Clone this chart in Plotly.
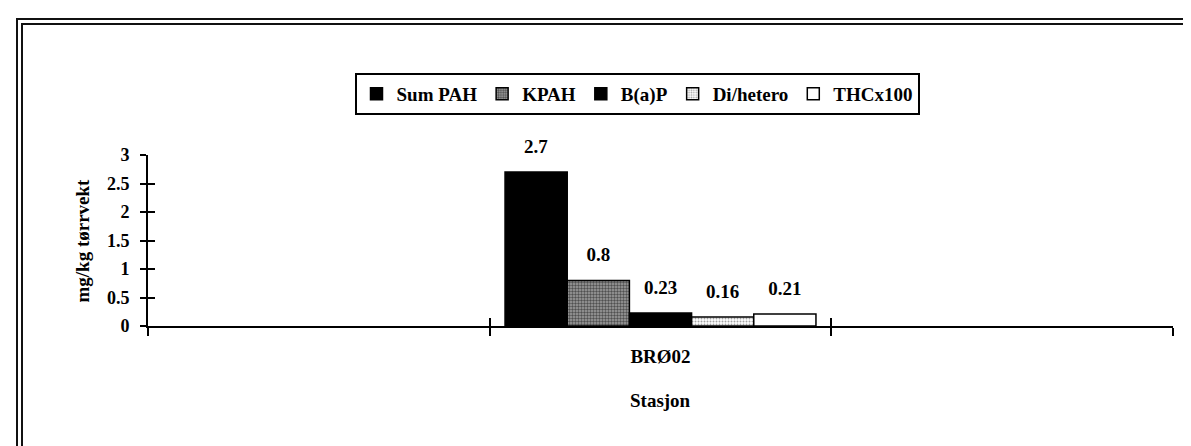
import plotly.graph_objects as go

# ---------------- data ----------------
stations = ["BRØ02"]
axis_slots = [" ", "BRØ02", "  "]          # category slots along the x axis
series_names = ["Sum PAH", "KPAH", "B(a)P", "Di/hetero", "THCx100"]
sum_pah = [2.7]
kpah = [0.8]
bap = [0.23]
di_hetero = [0.16]
thc_x100 = [0.21]
label_sum_pah = ["2.7"]
label_kpah = ["0.8"]
label_bap = ["0.23"]
label_di_hetero = ["0.16"]
label_thc = ["0.21"]
y_ticks = [0, 0.5, 1, 1.5, 2, 2.5, 3]

# ---------------- layout geometry ----------------
W, H = 1191, 446
ML, MR, MT, MB = 140, 26, 147, 128
PW, PH = W - ML - MR, H - MT - MB


def px_x(px):
    return (px - ML) / PW


def px_y(py):
    return (H - MB - py) / PH


FONT = "Liberation Serif"
BLACK = "#000000"


def bold(size):
    return dict(family=FONT, size=size, color=BLACK, weight="bold")


styles = [
    dict(color=BLACK, pattern=None),
    dict(color="#8c8c8c", pattern=dict(shape=".", fgcolor=BLACK, bgcolor="#a0a0a0",
                                       size=3, solidity=0.5, fillmode="overlay")),
    dict(color=BLACK, pattern=None),
    dict(color="#ffffff", pattern=dict(shape=".", fgcolor="#444444", bgcolor="#ffffff",
                                       size=3, solidity=0.35, fillmode="overlay")),
    dict(color="#ffffff", pattern=None),
]
values = [sum_pah, kpah, bap, di_hetero, thc_x100]
labels = [label_sum_pah, label_kpah, label_bap, label_di_hetero, label_thc]

fig = go.Figure()
for name, vals, labs, st in zip(series_names, values, labels, styles):
    marker = dict(color=st["color"], line=dict(color=BLACK, width=1.5))
    if st["pattern"] is not None:
        marker["pattern"] = st["pattern"]
    fig.add_trace(go.Bar(
        x=stations, y=vals, name=name, marker=marker,
        text=[f"<span style='font-size:19px'>{t}</span><br>\u00a0" for t in labs],
        textposition="outside", textangle=0, constraintext="none", cliponaxis=False,
        textfont=bold(11),
        hoverinfo="skip",
    ))

# invisible anchor trace for the overlay axes that draw the inner half of the ticks
fig.add_trace(go.Scatter(x=stations, y=[0], xaxis="x2", yaxis="y2", mode="markers",
                         marker=dict(opacity=0), showlegend=False, hoverinfo="skip"))

fig.update_layout(
    width=W, height=H,
    margin=dict(l=ML, r=MR, t=MT, b=MB, autoexpand=False),
    paper_bgcolor="#ffffff", plot_bgcolor="#ffffff",
    font=bold(18),
    barmode="group", bargap=0.09, bargroupgap=0,
    showlegend=True,
    legend=dict(orientation="h", x=px_x(629), y=px_y(65), xanchor="center", yanchor="top",
                bgcolor="#ffffff", bordercolor=BLACK, borderwidth=2,
                font=bold(19), itemclick=False, itemdoubleclick=False),
    xaxis=dict(type="category", categoryorder="array", categoryarray=axis_slots,
               range=[-0.5, 2.5], tickson="boundaries", ticks="outside", ticklen=8,
               tickwidth=2, tickcolor=BLACK, showline=True, linecolor=BLACK, linewidth=2,
               showgrid=False, zeroline=False, tickfont=bold(19),
               ticklabelstandoff=12, fixedrange=True),
    xaxis2=dict(type="category", categoryorder="array", categoryarray=axis_slots,
                range=[-0.5, 2.5], tickson="boundaries", ticks="inside", ticklen=8,
                tickwidth=2, tickcolor=BLACK, showline=False, showgrid=False, zeroline=False,
                showticklabels=False, overlaying="x", anchor="y2", fixedrange=True),
    yaxis=dict(range=[0, 3], tickmode="array", tickvals=y_ticks, ticktext=[str(v) for v in y_ticks],
               ticks="outside", ticklen=6, tickwidth=2, tickcolor=BLACK,
               showline=True, linecolor=BLACK, linewidth=2, showgrid=False, zeroline=False,
               tickfont=bold(18), ticklabelstandoff=7, fixedrange=True),
    yaxis2=dict(range=[0, 3], tickmode="array", tickvals=y_ticks, ticks="inside", ticklen=7,
                tickwidth=2, tickcolor=BLACK, showline=False, showgrid=False, zeroline=False,
                showticklabels=False, overlaying="y", anchor="x", fixedrange=True),
    annotations=[
        dict(text="mg/kg tørrvekt", textangle=-90, xref="paper", yref="paper",
             x=px_x(74), y=0.5, xanchor="center", yanchor="middle", showarrow=False,
             font=bold(19)),
        dict(text="Stasjon", xref="paper", yref="paper", x=0.5, y=px_y(392),
             xanchor="center", yanchor="middle", showarrow=False,
             font=bold(19)),
    ],
    shapes=[
        dict(type="rect", xref="paper", yref="paper", x0=px_x(9), y0=px_y(470), x1=px_x(1230),
             y1=px_y(11), line=dict(color="#111111", width=2), fillcolor="rgba(0,0,0,0)", layer="below"),
        dict(type="rect", xref="paper", yref="paper", x0=px_x(14), y0=px_y(470), x1=px_x(1230),
             y1=px_y(16), line=dict(color="#111111", width=2), fillcolor="rgba(0,0,0,0)", layer="below"),
    ],
)

fig.write_html("out.html", config=dict(displayModeBar=False, staticPlot=True))
